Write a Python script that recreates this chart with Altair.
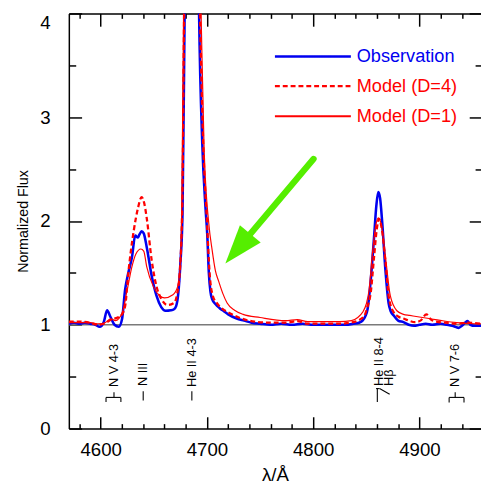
import altair as alt
import pandas as pd

# ---------------- data ----------------
obs_wl = [4570, 4575, 4580, 4585, 4590, 4595, 4599, 4603, 4606, 4609, 4613, 4617, 4620,
          4623, 4626, 4629.4, 4632.5, 4635, 4636.5, 4638.5, 4640.5, 4643.3, 4648, 4652.5,
          4657, 4661, 4666, 4669, 4671, 4673, 4675, 4677, 4679, 4681, 4683.5, 4686, 4688.5,
          4691, 4692.6, 4695.6, 4698.7, 4700.3, 4701.8, 4703.3, 4705, 4708, 4712, 4716,
          4720, 4728, 4735, 4742, 4750, 4760, 4770, 4780, 4790, 4800, 4810, 4820, 4830,
          4838, 4843, 4846.5, 4849, 4851.2, 4854.2, 4857.3, 4859.5, 4861.3, 4863, 4864.9,
          4868, 4871, 4873, 4875.8, 4880, 4885, 4890, 4895, 4900, 4906, 4912, 4920, 4926,
          4931, 4934, 4937, 4940, 4943, 4945.5, 4948, 4952, 4958]
obs_flux = [1.01, 1.02, 1.01, 1.02, 1.01, 1.00, 0.98, 1.03, 1.14, 1.08, 1.00, 0.98, 1.05,
            1.34, 1.50, 1.65, 1.86, 1.84, 1.87, 1.90, 1.88, 1.75, 1.47, 1.28,
            1.17, 1.135, 1.14, 1.15, 1.18, 1.30, 1.59, 2.07, 4.00, 5.60, 6.80, 7.20, 6.80,
            5.40, 4.00, 2.75, 2.12, 1.87, 1.50, 1.32, 1.245, 1.20, 1.16, 1.13,
            1.10, 1.06, 1.04, 1.02, 1.01, 1.00, 1.01, 1.00, 1.01, 1.00, 1.00, 1.00, 1.00,
            1.01, 1.02, 1.04, 1.08, 1.15, 1.43, 1.84, 2.15, 2.28, 2.22, 2.00,
            1.53, 1.21, 1.13, 1.09, 1.04, 1.025, 1.00, 0.99, 1.00, 1.01, 1.00, 1.01, 1.00,
            0.99, 0.98, 0.97, 0.99, 1.02, 1.035, 1.00, 0.99, 0.99]

d4_wl = [4570, 4580, 4590, 4597, 4603, 4610, 4616, 4620, 4623, 4626, 4631, 4635, 4638.5,
         4641, 4643.3, 4648, 4652.5, 4657, 4663, 4669, 4672, 4675, 4677, 4678.5, 4681,
         4684, 4686, 4688.5, 4691, 4693.5, 4696.5, 4700, 4702.5, 4705.5, 4710, 4715, 4720,
         4730, 4745, 4760, 4775, 4785, 4795, 4810, 4825, 4835, 4842, 4848.3, 4851, 4854.2,
         4857.3, 4860, 4862, 4864, 4868, 4871, 4875.8, 4880, 4885, 4890, 4895.8, 4901,
         4906.6, 4911, 4916, 4925, 4935, 4945, 4958]
d4_flux = [1.03, 1.03, 1.02, 1.00, 1.01, 1.05, 1.07, 1.10, 1.18, 1.50, 1.90, 2.12, 2.23,
           2.17, 2.03, 1.62, 1.37, 1.25, 1.19, 1.21, 1.30, 1.60, 2.30, 4.00, 5.80,
           7.00, 7.30, 7.00, 5.80, 4.00, 2.75, 2.00, 1.50, 1.28, 1.20, 1.15, 1.12,
           1.07, 1.03, 1.02, 1.02, 1.035, 1.01, 1.01, 1.01, 1.02, 1.04, 1.09, 1.17, 1.31,
           1.65, 1.93, 2.02, 1.96, 1.62, 1.28, 1.12, 1.08, 1.06, 1.04, 1.025, 1.04,
           1.10, 1.05, 1.03, 1.02, 1.01, 1.02, 1.01]

d1_wl = [4570, 4580, 4590, 4598, 4604, 4609.5, 4614, 4620, 4625, 4629.4, 4633, 4637.8,
         4640.5, 4643.3, 4649.5, 4655.5, 4660, 4668, 4672.5, 4675, 4676.5, 4678, 4681,
         4684, 4686, 4688.5, 4691, 4694.5, 4697.2, 4701.8, 4704.9, 4708, 4711, 4715, 4719,
         4726, 4734, 4750, 4774, 4785, 4795, 4810, 4825, 4836, 4842, 4846.5, 4850, 4852.7,
         4855.8, 4858.5, 4861.3, 4864, 4868, 4872.6, 4878.8, 4885, 4891, 4897, 4903, 4909,
         4915, 4921, 4935, 4952, 4958]
d1_flux = [1.02, 1.02, 1.02, 1.01, 1.02, 1.057, 1.04, 1.11, 1.34, 1.56, 1.68, 1.73,
           1.71, 1.56, 1.37, 1.28, 1.26, 1.29, 1.37, 1.60, 2.30, 4.00, 5.80,
           7.00, 7.30, 7.00, 5.80, 4.00, 2.75, 1.97, 1.72, 1.52, 1.42, 1.30, 1.21,
           1.14, 1.10, 1.07, 1.04, 1.05, 1.03, 1.03, 1.03, 1.04, 1.07, 1.12, 1.20, 1.34,
           1.69, 1.93, 2.03, 1.97, 1.66, 1.28, 1.135, 1.10, 1.09, 1.08, 1.07, 1.06,
           1.05, 1.04, 1.02, 1.01, 1.01]

x_major = [4600, 4700, 4800, 4900]
x_minor = [4580, 4620, 4640, 4660, 4680, 4720, 4740, 4760, 4780, 4820, 4840, 4860,
           4880, 4920, 4940]
y_major = [0, 1, 2, 3, 4]
y_minor = [0.5, 1.5, 2.5, 3.5]
x_domain = [4570, 4958]
y_domain = [0, 4]

legend_labels = ["Observation", "Model (D=4)", "Model (D=1)"]
legend_y = [3.585, 3.30, 3.01]
legend_x1 = [4764, 4764, 4764]
legend_x2 = [4835.5, 4835.5, 4835.5]
legend_tx = [4841, 4841, 4841]

ann_labels = ["N V 4-3", "N III", "He II 4-3", "He II 8-4", "Hβ", "N V 7-6"]
ann_x = [4612.5, 4640.3, 4686.4, 4862.0, 4871.0, 4933.7]
ann_y = [0.40, 0.41, 0.40, 0.41, 0.41, 0.40]

seg_x1 = [4612.5, 4605, 4605, 4619, 4640.0, 4685.8, 4860.4, 4859.2, 4862.5, 4933.7, 4928, 4928, 4942]
seg_x2 = [4612.5, 4619, 4605, 4619, 4640.0, 4685.8, 4860.4, 4862.5, 4872.0, 4933.7, 4942, 4928, 4942]
seg_y1 = [0.35, 0.30, 0.30, 0.30, 0.36, 0.36, 0.385, 0.385, 0.385, 0.35, 0.30, 0.30, 0.30]
seg_y2 = [0.30, 0.30, 0.255, 0.255, 0.27, 0.27, 0.255, 0.385, 0.33, 0.30, 0.30, 0.25, 0.25]

arrow_x = [4800.3, 4729.1]
arrow_y = [2.597, 1.733]
head_x = [4729.1]
head_y = [1.733]

BLUE = "#0000f0"
RED = "#ff0000"
GREEN = "#55ee00"
W, H = 420, 423
FONT = "Liberation Sans"

xs = alt.Scale(domain=x_domain, nice=False, zero=False)
ys = alt.Scale(domain=y_domain, nice=False, zero=False)

obs = pd.DataFrame({"wl": obs_wl, "flux": obs_flux})
d4 = pd.DataFrame({"wl": d4_wl, "flux": d4_flux})
d1 = pd.DataFrame({"wl": d1_wl, "flux": d1_flux})
leg = pd.DataFrame({"label": legend_labels, "y": legend_y, "x1": legend_x1,
                    "x2": legend_x2, "tx": legend_tx})
ann = pd.DataFrame({"label": ann_labels, "x": ann_x, "y": ann_y})
seg = pd.DataFrame({"x1": seg_x1, "x2": seg_x2, "y1": seg_y1, "y2": seg_y2})
arr = pd.DataFrame({"x": arrow_x, "y": arrow_y})
head = pd.DataFrame({"x": head_x, "y": head_y})
base = pd.DataFrame({"x1": [x_domain[0]], "x2": [x_domain[1]], "y": [1.0]})
dummy = pd.DataFrame({"wl": [4700], "flux": [1.0]})

common = dict(grid=False, tickColor="black", tickWidth=1.5, domainColor="black", domainWidth=1.5)

ax_lab = alt.Axis(orient="bottom", values=x_major, ticks=False, domain=True, labels=True,
                  labelFont=FONT, labelFontSize=19, labelColor="black", labelPadding=12,
                  format="d", title="λ/Å", titleFont=FONT, titleFontSize=19,
                  titleFontWeight="normal", titleColor="black", titlePadding=7, **common)
ay_lab = alt.Axis(orient="left", values=[0, 1, 2, 3], ticks=False, domain=True, labels=True,
                  labelFont=FONT, labelFontSize=19, labelColor="black", labelPadding=19,
                  title="Normalized Flux", titleFont=FONT, titleFontSize=14.5,
                  titleFontWeight="normal", titleColor="black", titlePadding=10, **common)
ay_lab4 = alt.Axis(orient="left", values=[4], ticks=False, domain=False, labels=True,
                   labelFont=FONT, labelFontSize=19, labelColor="black", labelPadding=19,
                   labelBaseline="top", title=None, **common)


def tick_axis(orient, offset, values, size, domain=False):
    return alt.Axis(orient=orient, offset=offset, values=values, tickSize=size, ticks=True,
                    labels=False, domain=domain, title=None, **common)


ax_bot_major = tick_axis("top", -H, x_major, 12)
ax_bot_minor = tick_axis("top", -H, x_minor, 5)
ax_top_major = tick_axis("bottom", -H, x_major, 13, domain=True)
ax_top_minor = tick_axis("bottom", -H, x_minor, 5)
ay_left_major = tick_axis("right", -W, y_major, 13)
ay_left_minor = tick_axis("right", -W, y_minor, 7)
ay_right_major = tick_axis("left", -W, y_major, 12)
ay_right_minor = tick_axis("left", -W, y_minor, 6)


def axis_layer(xa, ya):
    return alt.Chart(dummy).mark_point(opacity=0).encode(
        x=alt.X("wl:Q", scale=xs, axis=xa), y=alt.Y("flux:Q", scale=ys, axis=ya))


axis_layers = [
    axis_layer(ax_lab, ay_lab),
    axis_layer(ax_bot_major, ay_lab4),
    axis_layer(ax_bot_minor, ay_left_major),
    axis_layer(ax_top_major, ay_left_minor),
    axis_layer(ax_top_minor, ay_right_major),
    alt.Chart(dummy).mark_point(opacity=0).encode(
        x=alt.X("wl:Q", scale=xs, axis=None), y=alt.Y("flux:Q", scale=ys, axis=ay_right_minor)),
]

baseline = alt.Chart(base).mark_rule(color="#7a7a7a", strokeWidth=1.5).encode(
    x=alt.X("x1:Q", scale=xs, axis=None), x2="x2:Q",
    y=alt.Y("y:Q", scale=ys, axis=None))


def spec_line(df, color, width, dash=None):
    kw = dict(color=color, strokeWidth=width, interpolate="monotone", clip=True)
    if dash:
        kw["strokeDash"] = dash
    return alt.Chart(df).mark_line(**kw).encode(
        x=alt.X("wl:Q", scale=xs, axis=None), y=alt.Y("flux:Q", scale=ys, axis=None),
        order="wl:Q")


blue_line = spec_line(obs, BLUE, 2.6)
d4_line = spec_line(d4, RED, 2.3, [5, 3])
d1_line = spec_line(d1, RED, 1.2)

leg_color = alt.Color("label:N", scale=alt.Scale(domain=legend_labels, range=[BLUE, RED, RED]),
                      legend=None)
leg_dash = alt.StrokeDash("label:N", scale=alt.Scale(domain=legend_labels,
                                                      range=[[1, 0], [5, 3], [1, 0]]), legend=None)
leg_width = alt.StrokeWidth("label:N", scale=alt.Scale(domain=legend_labels,
                                                        range=[2.5, 2.0, 1.2]), legend=None)
leg_lines = alt.Chart(leg).mark_rule().encode(
    x=alt.X("x1:Q", scale=xs, axis=None), x2="x2:Q",
    y=alt.Y("y:Q", scale=ys, axis=None), color=leg_color, strokeDash=leg_dash,
    strokeWidth=leg_width)
leg_text = alt.Chart(leg).mark_text(align="left", baseline="middle", font=FONT,
                                    fontSize=18.5).encode(
    x=alt.X("tx:Q", scale=xs, axis=None), y=alt.Y("y:Q", scale=ys, axis=None),
    text="label:N", color=leg_color)

ann_text = alt.Chart(ann).mark_text(angle=270, align="left", baseline="middle",
                                    font=FONT, fontSize=13, color="black").encode(
    x=alt.X("x:Q", scale=xs, axis=None), y=alt.Y("y:Q", scale=ys, axis=None), text="label:N")
ann_segs = alt.Chart(seg).mark_rule(color="black", strokeWidth=1.1).encode(
    x=alt.X("x1:Q", scale=xs, axis=None), x2="x2:Q",
    y=alt.Y("y1:Q", scale=ys, axis=None), y2="y2:Q")

arrow_shaft = alt.Chart(arr).mark_line(color=GREEN, strokeWidth=6.5, strokeCap="round").encode(
    x=alt.X("x:Q", scale=xs, axis=None), y=alt.Y("y:Q", scale=ys, axis=None))
arrow_head = alt.Chart(head).mark_point(
    shape="M0,-1L0.7,1L-0.7,1Z", size=1560, angle=220, filled=True, opacity=1,
    color=GREEN, strokeWidth=0).encode(
    x=alt.X("x:Q", scale=xs, axis=None), y=alt.Y("y:Q", scale=ys, axis=None))

chart = alt.layer(
    *axis_layers, baseline, blue_line, d4_line, d1_line, leg_lines, leg_text,
    ann_segs, ann_text, arrow_shaft, arrow_head
).resolve_axis(x="independent", y="independent").properties(
    width=W, height=H,
    autosize=alt.AutoSizeParams(type="none"),
    padding={"left": 62, "top": 1, "right": 0, "bottom": 54},
    background="white",
).configure_view(stroke=None)

chart.save("out.html", embed_options={"renderer": "svg", "actions": False})
